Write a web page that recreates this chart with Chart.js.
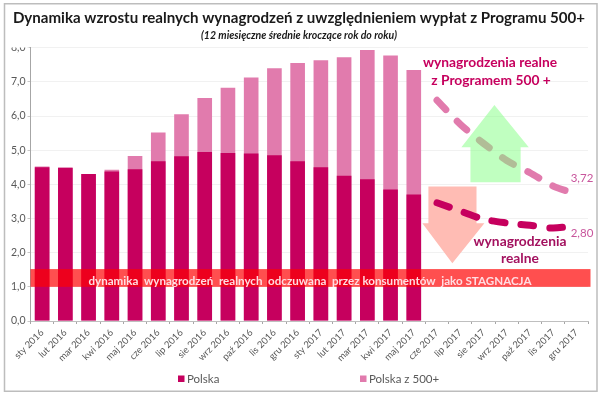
<!DOCTYPE html>
<html><head><meta charset="utf-8">
<style>html,body{margin:0;padding:0;background:#fff}#w{width:600px;height:393px}</style>
<script src="https://cdn.jsdelivr.net/npm/chart.js@4"></script>
</head><body><div id="w"><canvas id="c" width="600" height="393"></canvas></div>
<script>
const categories=["sty 2016","lut 2016","mar 2016","kwi 2016","maj 2016","cze 2016","lip 2016","sie 2016","wrz 2016","paź 2016","lis 2016","gru 2016","sty 2017","lut 2017","mar 2017","kwi 2017","maj 2017","cze 2017","lip 2017","sie 2017","wrz 2017","paź 2017","lis 2017","gru 2017"];
const polska=[4.5,4.48,4.3,4.38,4.44,4.68,4.82,4.95,4.92,4.9,4.85,4.68,4.5,4.25,4.15,3.85,3.7];
const polska500=[4.52,4.5,4.3,4.43,4.83,5.52,6.05,6.53,6.83,7.13,7.4,7.55,7.63,7.72,7.93,7.77,7.35];
const prognoza500=[null,null,null,null,null,null,null,null,null,null,null,null,null,null,null,null,null,6.46,5.76,5.2,4.7,4.34,3.95,3.72];
const prognoza=[null,null,null,null,null,null,null,null,null,null,null,null,null,null,null,null,null,3.46,3.22,2.98,2.87,2.8,2.72,2.8];
const titleText="Dynamika wzrostu realnych wynagrodzeń z uwzględnieniem wypłat z Programu 500+";
const subtitleText="(12 miesięczne średnie kroczące rok do roku)";
const bandText="dynamika  wynagrodzeń  realnych  odczuwana  przez konsumentów  jako STAGNACJA";
const FONT="Lato, Carlito, 'Open Sans', sans-serif";
const C1="#C6005E",C2="#E17BAD";
const arrowUp=[[19.47,6.32],[20.95,5.09],[20.6,5.09],[20.6,4.06],[18.44,4.06],[18.44,5.09],[18.05,5.09]];
const arrowDown=[[16.63,3.94],[18.7,3.94],[18.7,2.86],[19.04,2.86],[17.66,1.69],[16.37,2.86],[16.63,2.86]];
const bandRange=[1.0,1.52];
function helpers(ch){
  const g=ch.ctx,xs=ch.scales.x,ys=ch.scales.y;
  const step=xs.getPixelForValue(1)-xs.getPixelForValue(0);
  const X=i=>xs.getPixelForValue(0)+i*step,Y=v=>ys.getPixelForValue(v);
  const poly=(pts,col)=>{g.beginPath();pts.forEach((p,i)=>i?g.lineTo(X(p[0]),Y(p[1])):g.moveTo(X(p[0]),Y(p[1])));g.closePath();g.fillStyle=col;g.fill();};
  return {g,xs,ys,X,Y,poly};
}
const deco={id:'deco',
 beforeDraw(ch){const g=ch.ctx;g.save();g.fillStyle='#fff';g.fillRect(0,0,600,393);g.strokeStyle='#BDBDBD';g.lineWidth=1.5;g.strokeRect(4.5,3.75,592.5,387.5);g.restore();},
 beforeDatasetsDraw(ch){
  const {g,poly}=helpers(ch);
  g.save();poly(arrowDown,'#FFBCB4');g.restore();
 },
 afterDatasetsDraw(ch){
  const {g,xs,Y,poly}=helpers(ch);
  g.save();
  poly(arrowUp,'rgba(130,255,130,0.5)');
  g.fillStyle='rgba(255,0,0,0.69)';
  g.fillRect(xs.left,Y(bandRange[1]),xs.right-xs.left+2.5,Y(bandRange[0])-Y(bandRange[1]));
  g.textBaseline='middle';g.textAlign='center';
  g.fillStyle='#FFDDE2';g.font="bold 11.6px "+FONT;
  g.fillText(bandText,310,281);
  g.fillStyle=C1;g.font="bold 13.8px "+FONT;
  g.fillText("wynagrodzenia realne",490,63);
  g.fillText("z Programem 500 +",491,81);
  g.fillStyle='#A3115F';
  g.fillText("wynagrodzenia",520,242);
  g.fillText("realne",520,259);
  g.font="11.5px "+FONT;g.fillStyle='#C8559C';
  const fmt=v=>v.toFixed(2).replace('.',',');
  g.fillText(fmt(prognoza500[23]),582,178);
  g.fillText(fmt(prognoza[23]),582,233);
  // top tick label is cut off in the reference
  g.fillStyle='#fff';g.fillRect(6,41,23,6.5);
  // legend
  g.textAlign='left';g.font="11.5px "+FONT;
  ch.data.datasets.slice(0,2).forEach((d,i)=>{
    const lx=[178,360][i];
    g.fillStyle=d.backgroundColor;g.fillRect(lx,375.5,6.5,6.5);
    g.fillStyle='#595959';g.fillText(d.label,lx+9,379);
  });
  g.restore();
 }};
new Chart(document.getElementById('c'),{type:'bar',
 data:{labels:categories,datasets:[
  {label:'Polska',data:polska,backgroundColor:C1,order:2},
  {label:'Polska z 500+',data:polska500,backgroundColor:C2,order:3},
  {type:'line',label:'p500',data:prognoza500,borderColor:C2,borderWidth:7,borderDash:[13,16],borderCapStyle:'round',pointRadius:0,tension:0.3,order:1},
  {type:'line',label:'p',data:prognoza,borderColor:C1,borderWidth:7,borderDash:[13,16],borderCapStyle:'round',pointRadius:0,tension:0.3,order:0}
 ]},
 options:{responsive:false,animation:false,devicePixelRatio:1,
  layout:{padding:{left:10,right:12,top:0,bottom:0}},
  datasets:{bar:{barPercentage:1,categoryPercentage:0.63}},
  plugins:{legend:{display:false},tooltip:{enabled:false},
   title:{display:true,text:titleText,color:'#1a1a1a',font:{family:FONT,size:15.1,weight:'bold'},padding:{top:9,bottom:0}},
   subtitle:{display:true,text:subtitleText,color:'#1a1a1a',font:{family:FONT,size:10.5,weight:'bold',style:'italic'},padding:{top:2,bottom:6}}},
  scales:{
   x:{stacked:true,grid:{drawOnChartArea:false,tickLength:3,tickColor:'#A6A6A6'},border:{color:'#BFBFBF'},
      ticks:{minRotation:45,maxRotation:45,autoSkip:false,color:'#595959',font:{family:FONT,size:9.5},padding:3},
      afterFit(s){s.height=72;}},
   y:{min:0,max:8,grid:{color:'#F1F1F1',tickLength:3,tickColor:'#C8C8C8'},border:{color:'#A6A6A6'},
      ticks:{stepSize:1,color:'#595959',font:{family:FONT,size:10.5},padding:2,callback:v=>v.toFixed(1).replace('.',',')},
      afterFit(s){s.width=20.5;}}
  }},
 plugins:[deco]});
</script></body></html>
